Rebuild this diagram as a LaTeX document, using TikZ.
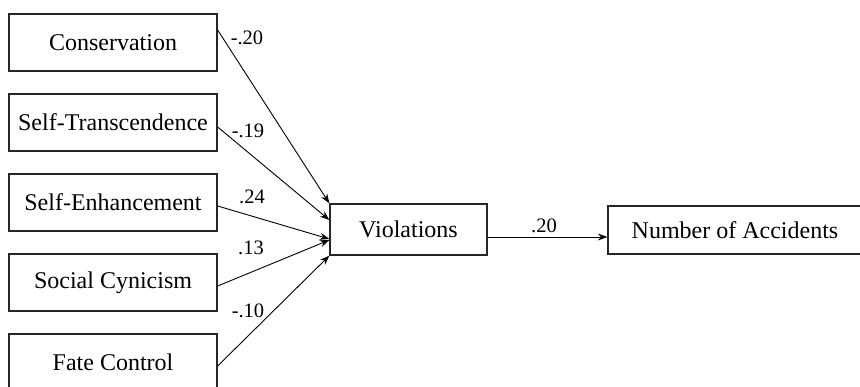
\documentclass[tikz,border=0pt]{standalone}
\usepackage{fontspec}
\setmainfont{Liberation Serif}
\usetikzlibrary{arrows.meta}
\begin{document}
\begin{tikzpicture}[x=1pt,y=-1pt,
  box/.style={draw=black!85, line width=1.3pt, inner sep=0pt,
    font=\fontsize{24}{28}\selectfont},
  leftbox/.style={box, minimum width=208pt, minimum height=57pt},
  coef/.style={inner sep=0pt, font=\fontsize{20.5}{24}\selectfont},
  arr/.style={line width=0.9pt, -{Stealth[length=9.5pt,width=7pt]}}]
\useasboundingbox (0,0) rectangle (860,386);
\node[leftbox] (cons) at (113,42.5) {Conservation};
\node[leftbox] (trans) at (113,122.5) {Self-Transcendence};
\node[leftbox] (enh) at (113,202.5) {Self-Enhancement};
\node[leftbox] (cyn) at (113,282.5) {Social Cynicism};
\node[leftbox] (fate) at (113,362.5) {Fate Control};
\node[box, minimum width=157pt, minimum height=51pt] (viol) at (408.5,229.5) {Violations};
\node[box, minimum width=254pt, minimum height=48pt] (acc) at (735,230) {Number of Accidents};
\draw[arr] ([yshift=12.5pt]cons.east) -- (viol.north west);
\draw[arr] ([yshift=-4.5pt]trans.east) -- ([yshift=9.5pt]viol.west);
\draw[arr] ([yshift=-3.5pt]enh.east) -- ([yshift=-9.5pt]viol.west);
\draw[arr] ([yshift=-3.5pt]cyn.east) -- ([yshift=-10.5pt]viol.west);
\draw[arr] ([yshift=-3.5pt]fate.east) -- (viol.south west);
\coordinate (vo) at ([yshift=-7.5pt]viol.east);
\draw[arr] (vo) -- (vo -| acc.west);
\node[coef] (c1) at (247,38) {-.20};
\node[coef] (c2) at (248,131) {-.19};
\node[coef] (c3) at (252,197) {.24};
\node[coef] (c4) at (251,248) {.13};
\node[coef] (c5) at (248,311) {-.10};
\node[coef] (c6) at (544,226) {.20};
\end{tikzpicture}
\end{document}
